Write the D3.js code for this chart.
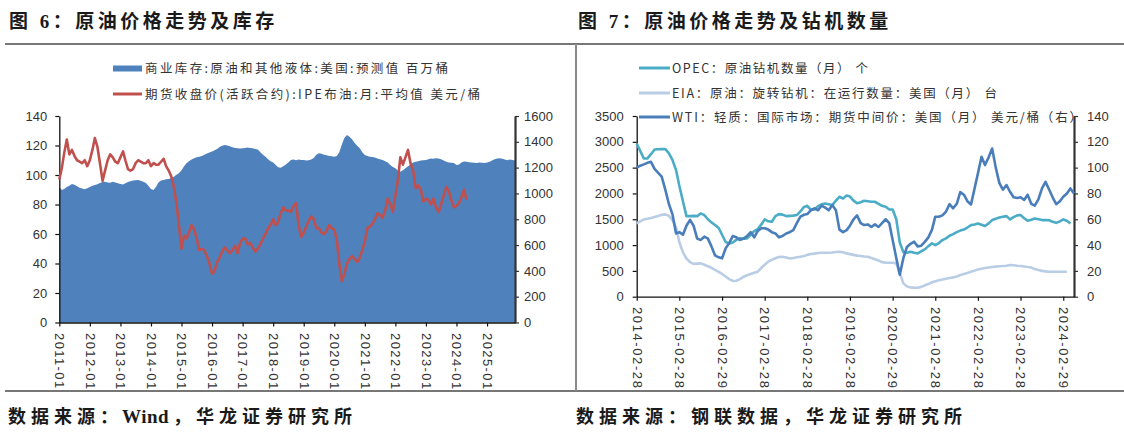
<!DOCTYPE html>
<html><head><meta charset="utf-8">
<script src="https://cdn.jsdelivr.net/npm/d3@7"></script>
<style>body{margin:0;background:#fff;} svg{display:block}</style>
</head><body>
<svg id="c" width="1124" height="434"></svg>
<script>
// ---------- Chart 6 data (monthly from 2011-01) ----------
const leftStartMonth = "2011-01";
const inventory = [
1048,1027,1035,1050,1060,1074,1068,1055,1045,1038,1032,1040,
1050,1060,1066,1072,1080,1088,1091,1085,1082,1090,1085,1078,
1074,1070,1078,1088,1095,1100,1103,1105,1098,1091,1080,1060,
1035,1027,1050,1085,1100,1105,1110,1112,1120,1130,1145,1157,
1180,1210,1234,1250,1262,1272,1280,1285,1290,1300,1310,1318,
1324,1335,1345,1360,1370,1376,1372,1365,1358,1352,1350,1348,
1350,1352,1355,1352,1350,1345,1340,1320,1300,1285,1265,1250,
1240,1220,1203,1200,1210,1225,1240,1260,1262,1258,1262,1260,
1260,1255,1258,1262,1275,1300,1311,1308,1300,1295,1290,1288,
1285,1290,1320,1380,1430,1453,1440,1420,1390,1370,1350,1320,
1298,1290,1285,1282,1278,1270,1265,1260,1250,1240,1220,1205,
1195,1175,1169,1180,1195,1210,1225,1239,1245,1250,1255,1258,
1260,1265,1270,1268,1273,1270,1265,1255,1245,1240,1238,1235,
1221,1225,1240,1247,1245,1242,1240,1238,1235,1240,1238,1236,
1240,1245,1255,1265,1270,1272,1268,1262,1258,1262,1260,1255];
const brent = [
97,105,115,124,114,117,113,110,109,108,110,106,
110,117,125,119,108,96,103,110,114,112,109,108,
112,116,110,104,103,104,108,110,109,108,108,110,
106,108,107,107,109,111,106,103,99,92,81,66,
50,59,57,61,66,63,57,49,50,49,45,40,
33,35,41,44,48,51,49,47,49,52,47,54,
57,57,53,54,51,48,50,53,57,60,64,66,
70,66,68,74,78,76,76,75,79,81,66,58,
61,65,69,72,70,64,64,61,60,62,66,64,
63,56,40,28,33,40,43,45,43,41,44,49,
55,64,65,67,70,74,73,71,76,84,80,75,
86,97,112,107,112,117,108,103,91,93,90,82,
84,83,80,84,78,75,80,86,92,89,83,78,
79,81,85,90,83];
const leftXTicks = ["2011-01","2012-01","2013-01","2014-01","2015-01","2016-01","2017-01","2018-01","2019-01","2020-01","2021-01","2022-01","2023-01","2024-01","2025-01"];
const leftPriceTicks = [0,20,40,60,80,100,120,140];
const leftInvTicks = [0,200,400,600,800,1000,1200,1400,1600];
const leftLegend = ["商业库存:原油和其他液体:美国:预测值 百万桶","期货收盘价(活跃合约):IPE布油:月:平均值 美元/桶"];

// ---------- Chart 7 data (monthly from 2014-02, month-end) ----------
const rightStartMonth = "2014-02";
const opecRigs = [
2968,2820,2677,2680,2760,2850,2855,2858,2858,2780,2650,2452,
2150,1850,1561,1561,1565,1561,1613,1580,1500,1440,1390,1330,
1200,1060,1032,1050,1100,1129,1125,1130,1200,1270,1310,1400,
1497,1460,1452,1560,1600,1590,1561,1565,1570,1581,1650,1740,
1760,1680,1690,1755,1790,1806,1790,1774,1860,1935,1903,1960,
1940,1860,1810,1830,1858,1850,1840,1839,1800,1760,1742,1690,
1690,1500,1050,860,850,871,850,839,880,916,980,1032,
1000,1040,1097,1130,1180,1213,1250,1280,1300,1340,1387,1400,
1419,1395,1368,1420,1484,1510,1535,1550,1561,1497,1540,1575,
1581,1520,1471,1490,1516,1500,1484,1484,1480,1450,1430,1460,
1497,1470,1419];
const eiaRigs = [
1419,1460,1497,1510,1525,1545,1565,1585,1594,1570,1480,1350,
1060,860,740,670,635,640,645,620,590,560,520,480,
440,390,340,305,310,340,387,415,440,465,484,560,
620,680,715,745,770,774,760,742,750,765,774,790,
810,826,835,845,852,852,852,855,865,871,860,839,
825,810,796,790,780,774,750,725,700,670,658,658,
658,645,452,258,200,178,175,174,190,220,245,280,
300,320,335,348,362,374,392,420,440,460,484,505,
525,540,555,565,575,582,590,594,600,613,610,600,
594,585,575,565,535,516,500,490,484,484,484,484,
484,484];
const wti = [
100,101.5,102.5,103.7,104.5,99,96,93,83,72,64,49,
50,48,55,59.5,55,45,44,46.5,45,39,32,30.5,
29.7,37.5,41.5,47,46,44,45,47,50,46,51,53,
53,52,50,49,46,47,49,50,51.6,57,62,63.5,
64,67,68.4,67,70.5,69,67,71,67,52,50,51.6,
55,60,63,57,55.5,56,54,56,54,57,60,57,
44,30,17,30,38.5,41,42.6,39,39.5,42.5,46,52,
62,62,63,66,71.7,68.5,72,81,79,74,71.5,84,
95.5,108.4,102,108,114.8,100,88,83,86.5,81.3,77,76.5,
77,75,79,72,70.5,75.4,84,89,83,77,71.7,74,
77.5,80,83.9,80];
const rightXTicks = ["2014-02-28","2015-02-28","2016-02-29","2017-02-28","2018-02-28","2019-02-28","2020-02-29","2021-02-28","2022-02-28","2023-02-28","2024-02-29"];
const rigTicks = [0,500,1000,1500,2000,2500,3000,3500];
const wtiTicks = [0,20,40,60,80,100,120,140];
const rightLegend = ["OPEC：原油钻机数量（月） 个","EIA：原油：旋转钻机：在运行数量：美国（月） 台","WTI：轻质：国际市场：期货中间价：美国（月） 美元/桶（右）"];

// ---------- drawing ----------
const svg = d3.select("#c");
const CJK = "'Noto Sans CJK SC','Noto Sans',sans-serif";
const TITLEF = "'Liberation Serif','Noto Sans CJK SC',serif";
const TICKF = "'Liberation Sans',Arial,sans-serif";

// frame lines
svg.append("line").attr("x1",5).attr("x2",1124).attr("y1",44).attr("y2",44).attr("stroke","#4a4a4a").attr("stroke-width",1.6);
svg.append("line").attr("x1",5).attr("x2",1124).attr("y1",391).attr("y2",391).attr("stroke","#4a4a4a").attr("stroke-width",1.6);
svg.append("line").attr("x1",576).attr("x2",576).attr("y1",44).attr("y2",391).attr("stroke","#8a8a8a").attr("stroke-width",2);

// titles & sources
function ttl(x,y,t,size,ls){
  return svg.append("text").attr("x",x).attr("y",y).text(t)
    .style("font-family",TITLEF).style("font-weight","bold").style("font-size",size+"px")
    .style("letter-spacing",ls+"px").attr("fill","#1a1a1a");
}
ttl(9,28,"图 6：原油价格走势及库存",19,3.5);
ttl(578,28,"图 7：原油价格走势及钻机数量",19,3.5);
// left source split so that "Wind" stays compact
const src1 = svg.append("text").attr("y",423)
  .style("font-family",TITLEF).style("font-weight","bold").style("font-size","18px").attr("fill","#1a1a1a");
[["数据来源：",8,5,18],["Wind",122,0.5,19],["，华龙证券研究所",173,5,18]].forEach(([t,x,ls,fs])=>{
  src1.append("tspan").attr("x",x).text(t).style("letter-spacing",ls+"px").style("font-size",fs+"px");
});
ttl(576,423,"数据来源：钢联数据，华龙证券研究所",18,5);

function styleAxis(g, strokeW, col){
  g.select(".domain").attr("stroke",col||"#111").attr("stroke-width",strokeW);
  g.selectAll(".tick line").attr("stroke",col||"#111").attr("stroke-width",1.2);
  g.selectAll(".tick text").style("font-family",TICKF).style("font-size","13px").attr("fill","#333");
}
const intFmt = d3.format("d");

// ===== Chart 6 =====
const pm = d3.timeParse("%Y-%m");
const l0 = pm(leftStartMonth);
const invData = inventory.map((v,i)=>({d:d3.timeMonth.offset(l0,i),v}));
const brentData = brent.map((v,i)=>({d:d3.timeMonth.offset(l0,i),v}));
const xL = d3.scaleTime().domain([l0, invData[invData.length-1].d]).range([59.3,515]);
const yP = d3.scaleLinear().domain([0,140]).range([322.5,116]);
const yI = d3.scaleLinear().domain([0,1600]).range([322.5,116]);

svg.append("path").datum(invData)
  .attr("d", d3.area().x(d=>xL(d.d)).y0(yI(0)).y1(d=>yI(d.v)))
  .attr("fill","#4f81bd");

let g = svg.append("g").attr("transform",`translate(59.3,0)`)
  .call(d3.axisLeft(yP).tickValues(leftPriceTicks).tickFormat(intFmt).tickSize(4).tickPadding(8).tickSizeOuter(0));
styleAxis(g,1.3);
g = svg.append("g").attr("transform",`translate(515,0)`)
  .call(d3.axisRight(yI).tickValues(leftInvTicks).tickFormat(intFmt).tickSize(4).tickPadding(5).tickSizeOuter(0));
styleAxis(g,2.2,"#333");
g = svg.append("g").attr("transform",`translate(0,322.5)`)
  .call(d3.axisBottom(xL).tickValues(leftXTicks.map(pm)).tickFormat(d3.timeFormat("%Y-%m")).tickSize(4).tickSizeOuter(0));
styleAxis(g,1.3);
g.selectAll(".tick text").attr("transform","rotate(90)").attr("x",10.5).attr("y",0).attr("dy","0.36em")
  .style("text-anchor","start").style("letter-spacing","1.4px");

svg.append("path").datum(brentData)
  .attr("d", d3.line().x(d=>xL(d.d)).y(d=>yP(d.v)))
  .attr("fill","none").attr("stroke","#c0504d").attr("stroke-width",2.6).attr("stroke-linejoin","round");

// legend 6
const leftLegLen = [303,335];
svg.append("rect").attr("x",113).attr("y",65.5).attr("width",29).attr("height",6).attr("fill","#4f81bd");
svg.append("line").attr("x1",113).attr("x2",142).attr("y1",94).attr("y2",94).attr("stroke","#c0504d").attr("stroke-width",3);
[68.5,94].forEach((y,i)=>{
  svg.append("text").attr("x",145).attr("y",y).attr("dy","0.36em").text(leftLegend[i])
    .attr("textLength",leftLegLen[i]).attr("lengthAdjust","spacing")
    .style("font-family",CJK).style("font-size","12.5px").attr("fill","#333");
});

// ===== Chart 7 =====
const r0 = pm(rightStartMonth);
const monthEnd = i => d3.timeDay.offset(d3.timeMonth.offset(r0,i+1),-1);
const opecData = opecRigs.map((v,i)=>({d:monthEnd(i),v}));
const eiaData = eiaRigs.map((v,i)=>({d:monthEnd(i),v}));
const wtiData = wti.map((v,i)=>({d:monthEnd(i),v}));
const pd = d3.timeParse("%Y-%m-%d");
const xR = d3.scaleTime().domain([monthEnd(0), wtiData[wtiData.length-1].d]).range([636.7,1074]);
const yRig = d3.scaleLinear().domain([0,3500]).range([296.7,116]);
const yW = d3.scaleLinear().domain([0,140]).range([296.7,116]);

// legend 7 (drawn first so the axis label sits over it)
const legCols = ["#4bacc6","#b9cde5","#4a7ebb"];
const rightLegLen = [196,325,410];
[68,93,117].forEach((y,i)=>{
  svg.append("line").attr("x1",639).attr("x2",670).attr("y1",y).attr("y2",y).attr("stroke",legCols[i]).attr("stroke-width",3);
  svg.append("text").attr("x",672).attr("y",y).attr("dy","0.36em").text(rightLegend[i])
    .attr("textLength",rightLegLen[i]).attr("lengthAdjust","spacing")
    .style("font-family",CJK).style("font-size","12.5px").attr("fill","#333");
});

g = svg.append("g").attr("transform",`translate(636.7,0)`)
  .call(d3.axisLeft(yRig).tickValues(rigTicks).tickFormat(intFmt).tickSize(4).tickPadding(9).tickSizeOuter(0));
styleAxis(g,1.3);
g = svg.append("g").attr("transform",`translate(1074,0)`)
  .call(d3.axisRight(yW).tickValues(wtiTicks).tickFormat(intFmt).tickSize(4).tickPadding(9).tickSizeOuter(0));
styleAxis(g,2.2,"#333");
g.selectAll(".tick text").attr("fill","#333");
g.selectAll(".tick").filter(d=>d===140).insert("rect","text").attr("x",11).attr("y",-8).attr("width",24).attr("height",16).attr("fill","#fff");
g = svg.append("g").attr("transform",`translate(0,296.7)`)
  .call(d3.axisBottom(xR).tickValues(rightXTicks.map(pd)).tickFormat(d3.timeFormat("%Y-%m-%d")).tickSize(4).tickSizeOuter(0));
styleAxis(g,1.3);
g.selectAll(".tick text").attr("transform","rotate(90)").attr("x",10.3).attr("y",0).attr("dy","0.36em")
  .style("text-anchor","start").style("letter-spacing","1.6px");

const lnR = (yS)=>d3.line().x(d=>xR(d.d)).y(d=>yS(d.v));
svg.append("path").datum(eiaData).attr("d",lnR(yRig)).attr("fill","none").attr("stroke","#b9cde5").attr("stroke-width",2.6).attr("stroke-linejoin","round");
svg.append("path").datum(opecData).attr("d",lnR(yRig)).attr("fill","none").attr("stroke","#4bacc6").attr("stroke-width",2.6).attr("stroke-linejoin","round");
svg.append("path").datum(wtiData).attr("d",lnR(yW)).attr("fill","none").attr("stroke","#4a7ebb").attr("stroke-width",2.6).attr("stroke-linejoin","round");
</script>
</body></html>
